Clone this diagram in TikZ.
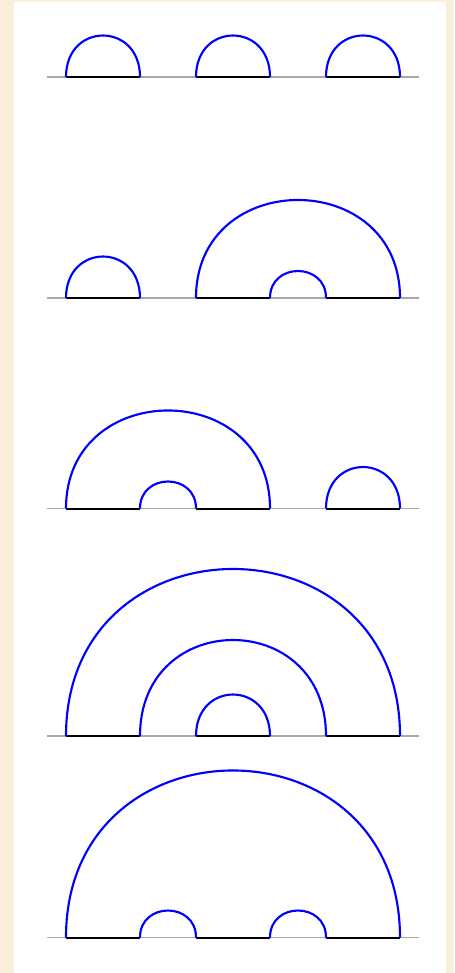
\documentclass[tikz,border=0pt]{standalone}
\definecolor{cream}{HTML}{FBEFD9}
\definecolor{axisgray}{HTML}{A8A8A8}
\begin{document}
\begin{tikzpicture}[x=0.75pt,y=-0.75pt,
  arcline/.style={blue, line width=1.6pt},
  baseseg/.style={black, line width=1.5pt},
  axisline/.style={axisgray, line width=0.8pt}]
\useasboundingbox (0,0) rectangle (454,973);
\fill[cream] (0,0) rectangle (454,973);
\fill[white] (14,2) rectangle (446,973);
\newcommand{\myarch}[4]{\draw[arcline] (#1,#3) .. controls (#1,#3-#4) and (#2,#3-#4) .. (#2,#3);}
\foreach \yb in {77,298,508.5,736,937.5}{
  \draw[axisline] (47,\yb) -- (419,\yb);
  \draw[baseseg] (66,\yb) -- (140,\yb);
  \draw[baseseg] (196,\yb) -- (270,\yb);
  \draw[baseseg] (326,\yb) -- (400,\yb);
}
% row 1
\myarch{66}{140}{77}{55.3}
\myarch{196}{270}{77}{55.3}
\myarch{326}{400}{77}{55.3}
% row 2
\myarch{66}{140}{298}{55.3}
\myarch{196}{400}{298}{130.7}
\myarch{270}{326}{298}{36}
% row 3
\myarch{66}{270}{508.5}{130.7}
\myarch{140}{196}{508.5}{36}
\myarch{326}{400}{508.5}{55.3}
% row 4
\myarch{66}{400}{736}{222.7}
\myarch{140}{326}{736}{128}
\myarch{196}{270}{736}{55.3}
% row 5
\myarch{66}{400}{937.5}{222.7}
\myarch{140}{196}{937.5}{36}
\myarch{270}{326}{937.5}{36}
\end{tikzpicture}
\end{document}
